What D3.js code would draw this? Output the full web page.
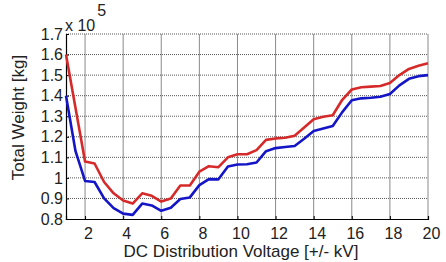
<!DOCTYPE html>
<html>
<head>
<meta charset="utf-8">
<script src="https://cdn.jsdelivr.net/npm/d3@7"></script>
<style>
  body { margin: 0; background: #fff; }
  svg { font-family: "Liberation Sans", Arial, sans-serif; }
</style>
</head>
<body>
<div id="chart"></div>
<script>
(function() {
  // DC distribution voltage [+/- kV]
  var voltage = [1, 1.5, 2, 2.5, 3, 3.5, 4, 4.5, 5, 5.5, 6, 6.5, 7, 7.5, 8, 8.5, 9, 9.5, 10,
    10.5, 11, 11.5, 12, 12.5, 13, 13.5, 14, 14.5, 15, 15.5, 16, 16.5, 17, 17.5, 18, 18.5, 19, 19.5, 20];

  // total weight, x 10^5 kg
  var weightRed = [1.60, 1.34, 1.08, 1.07, 0.98, 0.925, 0.89, 0.875, 0.925, 0.913, 0.885, 0.90,
    0.963, 0.963, 1.03, 1.057, 1.052, 1.10, 1.115, 1.115, 1.135, 1.185, 1.192, 1.195, 1.205,
    1.245, 1.285, 1.297, 1.305, 1.38, 1.43, 1.441, 1.444, 1.447, 1.462, 1.50, 1.53, 1.545, 1.558];

  var weightBlue = [1.40, 1.13, 0.985, 0.98, 0.90, 0.853, 0.826, 0.82, 0.875, 0.866, 0.84, 0.855,
    0.897, 0.905, 0.965, 0.994, 0.993, 1.055, 1.065, 1.066, 1.075, 1.13, 1.145, 1.15, 1.155,
    1.19, 1.228, 1.24, 1.252, 1.32, 1.378, 1.387, 1.39, 1.395, 1.408, 1.45, 1.482, 1.495, 1.50];

  var xTicks = [2, 4, 6, 8, 10, 12, 14, 16, 18, 20];
  var yTicks = [0.8, 0.9, 1.0, 1.1, 1.2, 1.3, 1.4, 1.5, 1.6, 1.7];

  const WIDTH = 446;
  const HEIGHT = 262;
  var margin = { left: 66, top: 34, right: 18, bottom: 43 };

  var svg = d3.select('#chart').append('svg')
    .attr('width', WIDTH)
    .attr('height', HEIGHT);

  var x = d3.scaleLinear().domain([1, 20]).range([margin.left, WIDTH - margin.right]);
  var y = d3.scaleLinear().domain([0.8, 1.7]).range([HEIGHT - margin.bottom, margin.top]);

  // grid
  svg.append('g')
    .selectAll('line')
    .data(xTicks)
    .enter().append('line')
      .attr('x1', function(d) { return x(d); })
      .attr('x2', function(d) { return x(d); })
      .attr('y1', y(0.8))
      .attr('y2', y(1.7))
      .attr('stroke', '#8a8a8a')
      .attr('stroke-width', 1);

  svg.append('g')
    .selectAll('line')
    .data(yTicks.slice(1))
    .enter().append('line')
      .attr('x1', x(1))
      .attr('x2', x(20))
      .attr('y1', function(d) { return y(d); })
      .attr('y2', function(d) { return y(d); })
      .attr('stroke', '#555')
      .attr('stroke-width', 1)
      .attr('stroke-dasharray', '1,1');

  // axes
  var xAxis = d3.axisBottom(x).tickValues(xTicks).tickSize(-3).tickPadding(7)
    .tickFormat(d3.format('d'));
  var yAxis = d3.axisLeft(y).tickValues(yTicks).tickSize(-3).tickPadding(4)
    .tickFormat(function(d) { return d === 1 ? '1' : d3.format('.1f')(d); });

  var gx = svg.append('g')
    .attr('transform', 'translate(0,' + y(0.8) + ')')
    .call(xAxis);
  var gy = svg.append('g')
    .attr('transform', 'translate(' + x(1) + ',0)')
    .call(yAxis);

  [gx, gy].forEach(function(g) {
    g.selectAll('path').attr('stroke', '#000').attr('stroke-width', 1.2);
    g.selectAll('line').attr('stroke', '#000');
    g.selectAll('text')
      .attr('fill', '#222')
      .style('font-size', '16px')
      .style('font-family', '"Liberation Sans", Arial, sans-serif');
  });
  gx.selectAll('text').attr('dy', '0.8em').attr('dx', 3);
  gy.selectAll('text').attr('dx', 1);

  // series
  var line = d3.line()
    .x(function(d) { return x(d[0]); })
    .y(function(d) { return y(d[1]); });

  var series = [
    { values: weightRed, color: '#d62a2a' },
    { values: weightBlue, color: '#1515c8' }
  ];

  series.forEach(function(s) {
    svg.append('path')
      .datum(d3.zip(voltage, s.values))
      .attr('fill', 'none')
      .attr('stroke', s.color)
      .attr('stroke-width', 2.6)
      .attr('stroke-linejoin', 'round')
      .attr('d', line);
  });

  // labels
  svg.append('text')
    .attr('x', 241)
    .attr('y', 257)
    .attr('text-anchor', 'middle')
    .attr('fill', '#222')
    .style('font-size', '17px')
    .text('DC Distribution Voltage [+/- kV]');

  svg.append('text')
    .attr('transform', 'translate(24,' + ((y(0.8) + y(1.7)) / 2 - 9) + ') rotate(-90)')
    .attr('text-anchor', 'middle')
    .attr('fill', '#222')
    .style('font-size', '17px')
    .text('Total Weight [kg]');

  var expo = svg.append('text')
    .attr('x', x(1) - 1)
    .attr('y', 31)
    .attr('fill', '#222')
    .style('font-size', '16px');
  expo.append('tspan').text('x 10');
  expo.append('tspan')
    .attr('dy', -15)
    .attr('dx', 2)
    .text('5');
})();
</script>
</body>
</html>
